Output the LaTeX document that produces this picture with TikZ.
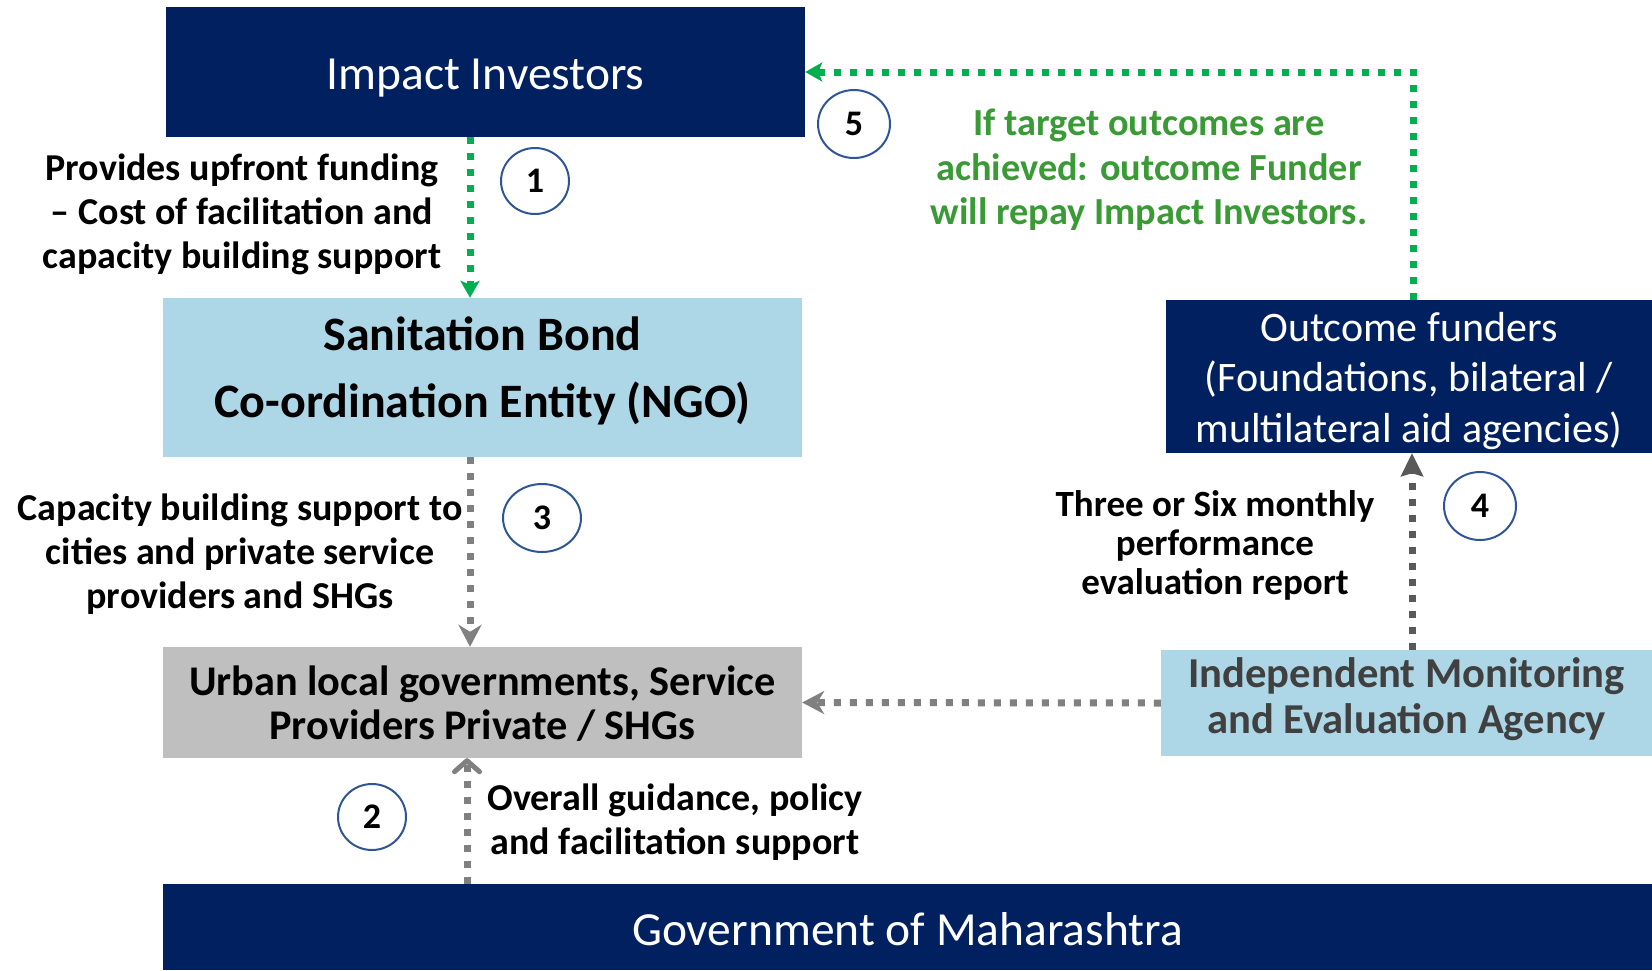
\documentclass[tikz,border=0pt]{standalone}
\usepackage{fontspec}
\setmainfont{Carlito}
\usetikzlibrary{arrows.meta,shapes.geometric}

\definecolor{navy}{HTML}{002060}
\definecolor{paleblue}{HTML}{ADD6E6}
\definecolor{boxgray}{HTML}{BFBFBF}
\definecolor{flowgreen}{HTML}{00B050}
\definecolor{textgreen}{HTML}{3A9A35}
\definecolor{flowgray}{HTML}{808080}
\definecolor{reportgray}{HTML}{595959}
\definecolor{numblue}{HTML}{2F5597}
\definecolor{agencytext}{HTML}{404040}

\newcommand\fsz[2]{\fontsize{#1}{#2}\selectfont}
% centred block of lines, drawn #1 lower while keeping its measured size
\newcommand\lowered[2]{\raisebox{-#1}[\height][\depth]{\begin{tabular}{@{}c@{}}#2\end{tabular}}}

\tikzset{
  box/.style={inner sep=0pt},
  navybox/.style={box, fill=navy, text=white},
  palebox/.style={box, fill=paleblue},
  graybox/.style={box, fill=boxgray},
  lbl/.style={inner sep=0pt, align=center, font=\fsz{38}{44}\bfseries},
  num/.style={ellipse, draw=numblue, line width=2pt, fill=white, inner sep=0pt,
    font=\fsz{36}{36}\bfseries},
  flow/.style={line width=7pt, dash pattern=on 7pt off 9pt},
  greenflow/.style={flow, draw=flowgreen,
    -{Stealth[length=17pt, width=19pt, inset=4pt, fill=flowgreen]}},
  grayflow/.style={flow, draw=flowgray,
    -{Stealth[length=22pt, width=23pt, inset=7pt, fill=flowgray]}},
}

\begin{document}
\begin{tikzpicture}[x=1pt, y=-1pt]
\useasboundingbox (0,0) rectangle (1652,970);

% boxes
\node[navybox, minimum width=639pt, minimum height=130pt, font=\fsz{47.5}{55}]
  (imp) at (485.5,72) {\lowered{6.3pt}{Impact Investors}};
\node[palebox, minimum width=639pt, minimum height=159pt, font=\fsz{48}{67}\bfseries]
  (san) at (482.5,377.5) {\lowered{-7.4pt}{Sanitation Bond\\Co-ordination Entity (NGO)}};
\node[graybox, minimum width=639pt, minimum height=111pt, font=\fsz{42.3}{44}\bfseries]
  (urb) at (482.5,702.5) {\lowered{6.3pt}{Urban local governments, Service\\Providers Private / SHGs}};
\node[navybox, minimum width=1489pt, minimum height=86pt, font=\fsz{47.5}{55}]
  (gov) at (907.5,927) {\lowered{7.4pt}{Government of Maharashtra}};
\node[navybox, minimum width=486pt, minimum height=153pt, font=\fsz{42}{50.5}]
  (out) at (1409,376.5)
  {\lowered{5.3pt}{Outcome funders\\(Foundations, bilateral /\\multilateral aid agencies)}};
\node[palebox, minimum width=491pt, minimum height=106pt, text=agencytext,
  font=\fsz{42.6}{46}\bfseries]
  (ind) at (1406.5,703) {\lowered{-2.1pt}{Independent Monitoring\\and Evaluation Agency}};

% connector columns
\coordinate (x1) at (470,0);
\coordinate (x2) at (467,0);
\coordinate (x4) at (1412,0);
\coordinate (x5) at (1413,0);

% flows
\draw[greenflow] (imp.south -| x1) -- (san.north -| x1);
\draw[greenflow] (out.north -| x5) |- (imp.east);
\draw[grayflow] (san.south -| x1) -- (urb.north -| x1);
\draw[flow, draw=flowgray,
  -{Straight Barb[length=11pt, width=25pt, line width=5pt, round]}]
  (gov.north -| x2) -- (urb.south -| x2);
\draw[flow, draw=reportgray,
  -{Stealth[length=23pt, width=22pt, inset=3pt, fill=reportgray]}]
  (ind.north -| x4) -- (out.south -| x4);
\draw[grayflow] (ind.west) -- (urb.east);

% step numbers
\node[num, minimum width=68pt, minimum height=66pt] (n1) at (535,181) {1};
\node[num, minimum width=68pt, minimum height=66pt] (n2) at (372,817) {2};
\node[num, minimum width=78pt, minimum height=68pt] (n3) at (542,518) {3};
\node[num, minimum width=72pt, minimum height=68pt] (n4) at (1480,506) {4};
\node[num, minimum width=72pt, minimum height=68pt] (n5) at (854,124) {5};

% flow labels
\node[lbl] (l1) at (242,214)
  {Provides upfront funding\\– Cost of facilitation and\\capacity building support};
\node[lbl] (l3) at (240,554)
  {Capacity building support to\\cities and private service\\providers and SHGs};
\node[lbl] (l2) at (675,822)
  {Overall guidance, policy\\and facilitation support};
\node[lbl, font=\fsz{38.3}{44.5}\bfseries, text=textgreen] (l5) at (1149,170)
  {If target outcomes are\\achieved: outcome Funder\\will repay Impact Investors.};
\node[lbl, font=\fsz{37}{39}\bfseries] (l4) at (1215,545)
  {Three or Six monthly\\performance\\evaluation report};
\end{tikzpicture}
\end{document}
